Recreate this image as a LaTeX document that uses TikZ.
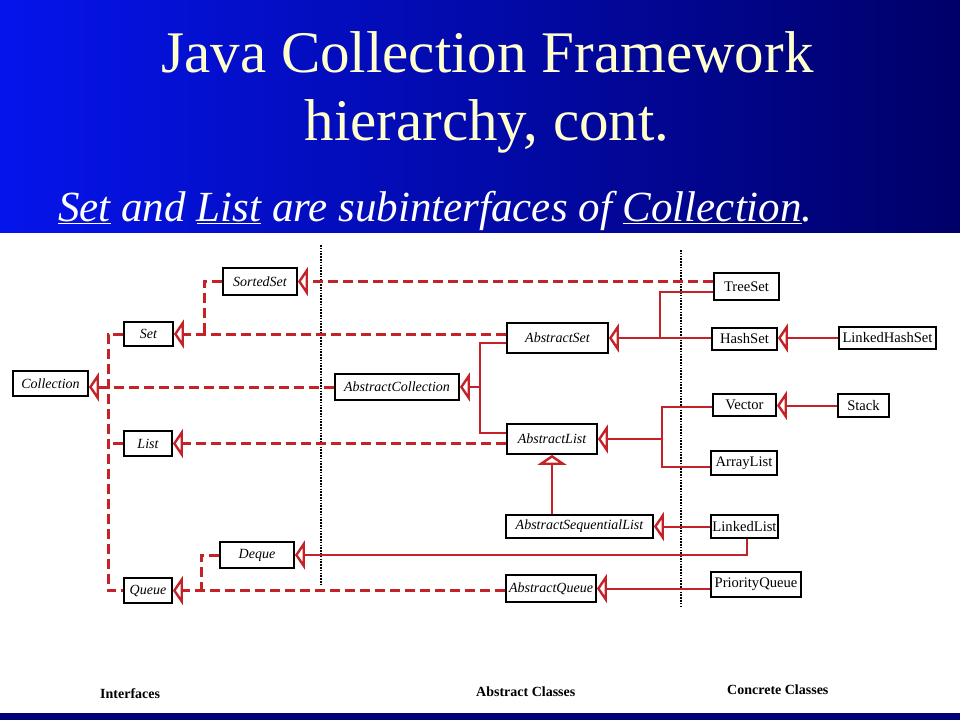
\documentclass[tikz,border=0pt]{standalone}
\usepackage{fontspec}
\setmainfont{Liberation Serif}
\usetikzlibrary{arrows.meta}
\definecolor{lnred}{RGB}{195,35,40}
\definecolor{ttl}{RGB}{255,255,205}
\definecolor{navybar}{RGB}{0,0,120}
\definecolor{hdl}{RGB}{5,20,235}
\definecolor{hdr}{RGB}{0,0,105}
\begin{document}
\begin{tikzpicture}[x=1pt,y=-1pt,
  box/.style={draw=black, line width=1.8pt, fill=white, inner sep=0pt, anchor=center},
  ifc/.style={box, font=\fontsize{14}{14}\selectfont\itshape},
  cls/.style={box, font=\fontsize{14.6}{14.6}\selectfont},
  dl/.style={draw=lnred, line width=3pt, dash pattern=on 10pt off 5pt},
  sl/.style={draw=lnred, line width=2pt},
  tri/.style={-{Triangle[open, length=10pt, width=29pt, line width=2.4pt]}},
  sepline/.style={draw=black, line width=2.5pt, dash pattern=on 1.6pt off 1.2pt},
  lab/.style={font=\fontsize{14}{14}\selectfont\bfseries, anchor=base west, inner sep=0pt}
]
\useasboundingbox (0,0) rectangle (960,720);
\fill[white] (0,0) rectangle (960,720);
\shade[left color=hdl, right color=hdr] (0,0) rectangle (960,232);
\fill[navybar] (0,713) rectangle (960,720);

% titles
\node[font=\fontsize{59}{60}\selectfont, text=ttl, anchor=base, inner sep=0pt] (t1) at (487.5,72) {Java Collection Framework};
\node[font=\fontsize{59}{60}\selectfont, text=ttl, anchor=base, inner sep=0pt] (t2) at (487,140) {hierarchy, cont.};
\node[font=\fontsize{43}{43}\selectfont\itshape, text=white, anchor=base west, inner sep=0pt] (sub) at (58,221) {\underline{Set} and \underline{List} are subinterfaces of \underline{Collection}.};

% separators
\coordinate (s1a) at (321,245); \coordinate (s1b) at (321,585);
\coordinate (s2a) at (681,250); \coordinate (s2b) at (681,608);
\draw[sepline] (s1a) -- (s1b);
\draw[sepline] (s2a) -- (s2b);

% interfaces
\node[ifc, minimum width=75pt, minimum height=25pt] (Collection) at (50.5,383.5) {Collection};
\node[ifc, minimum width=49pt, minimum height=24pt] (Set) at (148.5,334) {Set};
\node[ifc, minimum width=74pt, minimum height=27pt] (SortedSet) at (260,281.5) {SortedSet};
\node[ifc, minimum width=48pt, minimum height=25pt] (List) at (148,443.5) {List};
\node[ifc, minimum width=74pt, minimum height=26pt] (Deque) at (257,555) {Deque};
\node[ifc, minimum width=48pt, minimum height=25pt] (Queue) at (148,590.5) {Queue};

% abstract classes
\node[ifc, minimum width=124pt, minimum height=26pt] (AbstractCollection) at (397,387) {AbstractCollection};
\node[ifc, minimum width=101pt, minimum height=30pt] (AbstractSet) at (557.5,338) {AbstractSet};
\node[ifc, minimum width=90pt, minimum height=30pt] (AbstractList) at (552,439) {AbstractList};
\node[ifc, minimum width=147pt, minimum height=23pt] (AbstractSequentialList) at (579.5,526.5) {AbstractSequentialList};
\node[ifc, minimum width=90pt, minimum height=27pt] (AbstractQueue) at (551,588.5) {AbstractQueue};

% concrete classes
\node[cls, minimum width=65pt, minimum height=27pt] (TreeSet) at (746.5,286.5) {TreeSet};
\node[cls, minimum width=65pt, minimum height=22pt] (HashSet) at (744.5,339) {HashSet};
\node[cls, minimum width=97pt, minimum height=22pt] (LinkedHashSet) at (887.5,338) {LinkedHashSet};
\node[cls, minimum width=63pt, minimum height=22pt] (Vector) at (744.5,405) {Vector};
\node[cls, minimum width=51pt, minimum height=23pt] (Stack) at (863.5,405.5) {Stack};
\node[cls, minimum width=66pt, minimum height=24pt] (ArrayList) at (744,463) {ArrayList};
\node[cls, minimum width=67pt, minimum height=23pt] (LinkedList) at (744.5,526.5) {LinkedList};
\node[cls, minimum width=90pt, minimum height=25pt] (PriorityQueue) at (756,584.5) {PriorityQueue};

% bottom labels
\node[lab] (li) at (100,698) {Interfaces};
\node[lab] (la) at (476,696) {Abstract Classes};
\node[lab] (lc) at (727,694) {Concrete Classes};

% connectors
\coordinate (tsj) at (660,292);
\coordinate (ssj) at (204,334);
\coordinate (bus) at (108,334);
\coordinate (ja) at (480,343);
\coordinate (jb) at (480,433);
\coordinate (jv) at (662,407);
\coordinate (jw) at (662,467);
\coordinate (llj) at (747,555);
\coordinate (dqj) at (201,590.5);

\draw[dl,tri] (TreeSet.west |- SortedSet.east) -- (SortedSet.east);
\draw[sl] (TreeSet.west |- tsj) -- (tsj) -- (tsj |- AbstractSet.east);
\draw[sl,tri] (HashSet.west |- AbstractSet.east) -- (AbstractSet.east);
\draw[sl,tri] (LinkedHashSet.west) -- (LinkedHashSet.west -| HashSet.east);
\draw[dl,tri] (AbstractSet.west |- Set.east) -- (Set.east);
\draw[dl] (SortedSet.west) -| (ssj);
\draw[dl,tri] (AbstractCollection.west) -- (AbstractCollection.west -| Collection.east);
\draw[dl] (Set.west) -- (bus) |- (Queue.west);
\draw[dl] (List.west) -- (bus |- List.west);
\draw[dl,tri] (AbstractList.west |- List.east) -- (List.east);
\draw[sl] (AbstractSet.west |- ja) -- (ja) -- (jb) -- (AbstractList.west |- jb);
\draw[sl,tri] (ja |- AbstractCollection.east) -- (AbstractCollection.east);
\draw[sl] (Vector.west |- jv) -- (jv) -- (jw) -- (ArrayList.west |- jw);
\draw[sl,tri] (jv |- AbstractList.east) -- (AbstractList.east);
\draw[sl,tri] (Stack.west) -- (Stack.west -| Vector.east);
\draw[sl,tri] (AbstractList.south |- AbstractSequentialList.north) -- (AbstractList.south);
\draw[sl,tri] (LinkedList.west) -- (LinkedList.west -| AbstractSequentialList.east);
\draw[sl,tri] (LinkedList.south -| llj) -- (llj) -- (llj -| Deque.east);
\draw[dl] (Deque.west) -| (dqj);
\draw[dl,tri] (AbstractQueue.west |- Queue.east) -- (Queue.east);
\draw[sl,tri] (PriorityQueue.west |- AbstractQueue.east) -- (AbstractQueue.east);
\end{tikzpicture}
\end{document}
